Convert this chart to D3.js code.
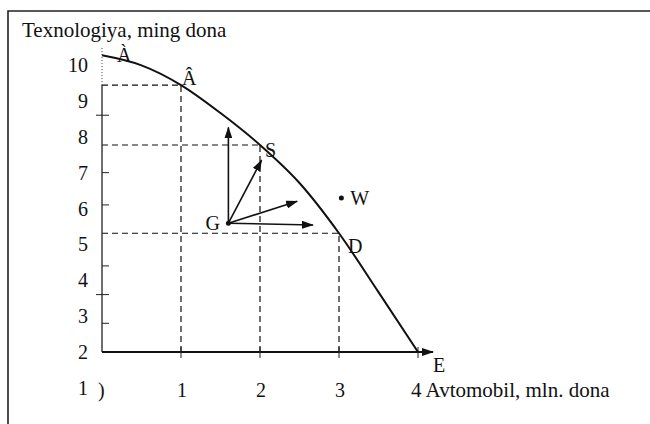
<!DOCTYPE html>
<html>
<head>
<meta charset="utf-8">
<script src="https://cdn.jsdelivr.net/npm/d3@7"></script>
<style>
  body { margin: 0; background: #fff; }
  svg { font-family: "Liberation Serif", "DejaVu Serif", serif; }
  text { fill: #111; }
</style>
</head>
<body>
<svg width="650" height="424"></svg>
<script>
// production possibilities curve (avtomobil vs texnologiya)
var curveX = [0, 0.5, 1, 1.5, 2, 2.5, 3, 3.5, 4];
var curveY = [10.27, 9.99, 9.44, 8.66, 7.77, 6.71, 5.31, 3.67, 2];

// named points on the curve (dashed guides)
var guideNames = ["Â", "S", "D"];
var guideX = [1, 2, 3];
var guideY = [9.44, 7.77, 5.31];

// point G and its arrows
var gPoint = [1.6, 5.59];
var arrowX = [1.6, 2.02, 2.47, 2.67];
var arrowY = [8.26, 7.35, 6.2, 5.54];

// point W (outside the curve)
var wPoint = [3.03, 6.29];

var yTickLabels = [1, 2, 3, 4, 5, 6, 7, 8, 9, 10];
var xTickValues = [0, 1, 2, 3, 4];
var xTickLabels = [")", "1", "2", "3", "4 Avtomobil, mln. dona"];
var yMinorTicks = [8.6, 7, 6.1, 4.4, 3.6, 2.8];
var yCrossTicks = [8.6, 3.6];

var svg = d3.select("svg");

var x = d3.scaleLinear().domain([0, 4]).range([102, 418]);
var y = d3.scaleLinear().domain([2, 10]).range([352, 65]);

// arrow head
svg.append("defs").append("marker")
  .attr("id", "head")
  .attr("viewBox", "0 0 12 8")
  .attr("refX", 11).attr("refY", 4)
  .attr("markerWidth", 12).attr("markerHeight", 8)
  .attr("markerUnits", "userSpaceOnUse")
  .attr("orient", "auto")
  .append("path")
  .attr("d", "M0,0 L12,4 L0,8 Z")
  .attr("fill", "#111");

// frame (top and left only)
svg.append("path")
  .attr("d", "M8,424 L8,11 L650,11")
  .attr("fill", "none")
  .attr("stroke", "#222")
  .attr("stroke-width", 1.6);

svg.append("text")
  .attr("x", 22).attr("y", 37)
  .attr("font-size", 21)
  .text("Texnologiya, ming dona");

// dashed guides
var guides = svg.append("g")
  .attr("stroke", "#111")
  .attr("stroke-width", 1.2)
  .attr("stroke-dasharray", "6,4")
  .attr("fill", "none");

guideX.forEach(function(gx, i) {
  guides.append("line")
    .attr("x1", x(0)).attr("x2", x(gx))
    .attr("y1", y(guideY[i])).attr("y2", y(guideY[i]));
  guides.append("line")
    .attr("x1", x(gx)).attr("x2", x(gx))
    .attr("y1", y(2)).attr("y2", y(guideY[i]));
});

// y axis: solid part, dotted top
svg.append("line")
  .attr("x1", x(0)).attr("x2", x(0))
  .attr("y1", y(2)).attr("y2", y(guideY[0]))
  .attr("stroke", "#222").attr("stroke-width", 1.3);
svg.append("line")
  .attr("x1", x(0)).attr("x2", x(0))
  .attr("y1", y(guideY[0])).attr("y2", y(10.5))
  .attr("stroke", "#444").attr("stroke-width", 1)
  .attr("stroke-dasharray", "1,2");

// minor y ticks
svg.selectAll(".ytick")
  .data(yMinorTicks)
  .enter().append("line")
  .attr("x1", function(d) { return yCrossTicks.indexOf(d) >= 0 ? x(0) - 6 : x(0); })
  .attr("x2", x(0) + 7)
  .attr("y1", function(d) { return y(d); })
  .attr("y2", function(d) { return y(d); })
  .attr("stroke", "#222").attr("stroke-width", 1);

// y labels
svg.selectAll(".ylab")
  .data(yTickLabels)
  .enter().append("text")
  .attr("x", 88)
  .attr("y", function(d) { return y(d); })
  .attr("dy", "0.35em")
  .attr("text-anchor", "end")
  .attr("font-size", 20)
  .text(function(d) { return d; });

// x axis with arrow
svg.append("line")
  .attr("x1", x(0)).attr("x2", x(4) + 15)
  .attr("y1", y(2)).attr("y2", y(2))
  .attr("stroke", "#111").attr("stroke-width", 2)
  .attr("marker-end", "url(#head)");

svg.selectAll(".xtick")
  .data(xTickValues.slice(1))
  .enter().append("line")
  .attr("x1", function(d) { return x(d); })
  .attr("x2", function(d) { return x(d); })
  .attr("y1", y(2) - 5).attr("y2", y(2) + 6)
  .attr("stroke", "#222").attr("stroke-width", 1);

svg.selectAll(".xlab")
  .data(xTickValues)
  .enter().append("text")
  .attr("x", function(d) { return x(d); })
  .attr("dx", function(d, i) { return i === 4 ? -7 : -4; })
  .attr("y", 397)
  .attr("font-size", function(d, i) { return i === 4 ? 21 : 20; })
  .text(function(d, i) { return xTickLabels[i]; });

// the curve
var line = d3.line()
  .x(function(d) { return x(d[0]); })
  .y(function(d) { return y(d[1]); })
  .curve(d3.curveMonotoneX);

svg.append("path")
  .datum(d3.zip(curveX, curveY))
  .attr("d", line)
  .attr("fill", "none")
  .attr("stroke", "#111")
  .attr("stroke-width", 2);

// arrows from G
svg.selectAll(".arrow")
  .data(arrowX)
  .enter().append("line")
  .attr("x1", x(gPoint[0])).attr("y1", y(gPoint[1]))
  .attr("x2", function(d) { return x(d); })
  .attr("y2", function(d, i) { return y(arrowY[i]); })
  .attr("stroke", "#111").attr("stroke-width", 1.6)
  .attr("marker-end", "url(#head)");

svg.append("circle")
  .attr("cx", x(gPoint[0])).attr("cy", y(gPoint[1]))
  .attr("r", 2.5).attr("fill", "#111");
svg.append("circle")
  .attr("cx", x(wPoint[0])).attr("cy", y(wPoint[1]))
  .attr("r", 2.5).attr("fill", "#111");

// point labels
var lab = svg.append("g").attr("font-size", 20);
lab.append("text").attr("x", x(0) + 15).attr("y", y(curveY[0]) + 7).text("À");
lab.append("text").attr("x", x(guideX[0]) + 1).attr("y", y(guideY[0])).text(guideNames[0]);
lab.append("text").attr("x", x(guideX[1]) + 5).attr("y", y(guideY[1]) + 12).text(guideNames[1]);
lab.append("text").attr("x", x(guideX[2]) + 9).attr("y", y(guideY[2]) + 20).text(guideNames[2]);
lab.append("text").attr("x", x(4) + 15).attr("y", y(2) + 20).text("E");
lab.append("text").attr("x", x(gPoint[0]) - 23).attr("y", y(gPoint[1]) + 7).text("G");
lab.append("text").attr("x", x(wPoint[0]) + 9).attr("y", y(wPoint[1]) + 7).text("W");
</script>
</body>
</html>
